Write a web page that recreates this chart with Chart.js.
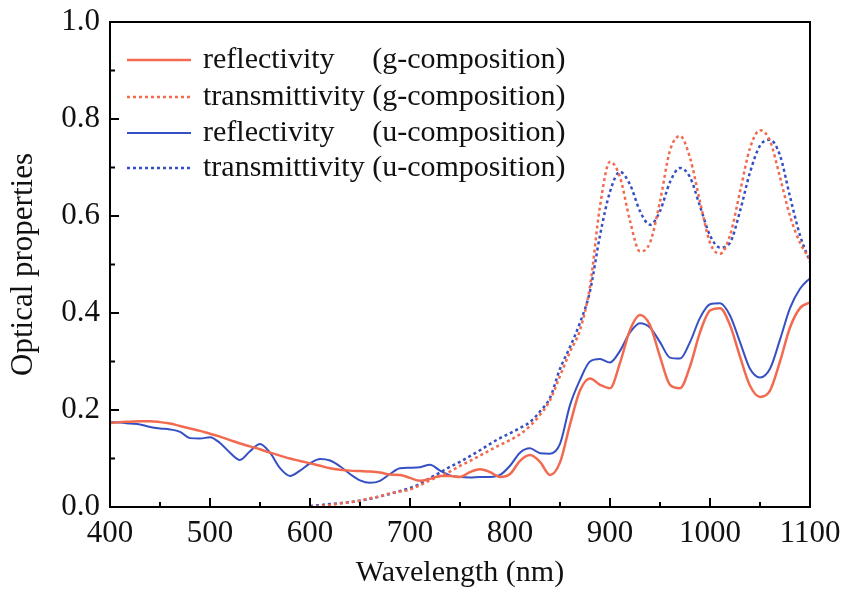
<!DOCTYPE html>
<html>
<head>
<meta charset="utf-8">
<script src="https://cdn.jsdelivr.net/npm/chart.js@4.4.1/dist/chart.umd.min.js"></script>
<style>
  html, body { margin: 0; padding: 0; background: #fff; }
  #wrap { width: 841px; height: 591px; }
</style>
</head>
<body>
<div id="wrap"><canvas id="opticChart" width="841" height="591"></canvas></div>
<script>
// wavelength grid (nm) for reflectivity curves
const wavelengthR = [400, 410, 420, 430, 440, 450, 460, 470, 480, 490, 500, 510, 520, 530, 540, 550, 560, 570, 580, 590,
    600, 610, 620, 630, 640, 650, 660, 670, 680, 690, 700, 710, 720, 730, 740, 750, 760, 770, 780, 790,
    800, 810, 820, 830, 840, 850, 860, 870, 880, 890, 900, 910, 920, 930, 940, 950, 960, 970, 980, 990,
    1000, 1010, 1020, 1030, 1040, 1050, 1060, 1070, 1080, 1090, 1100];

// wavelength grid (nm) for transmittivity curves
const wavelengthT = [600, 610, 620, 630, 640, 650, 660, 670, 680, 690, 700, 710, 720, 730, 740, 750, 760, 770, 780, 790,
    800, 810, 820, 830, 840, 850, 860, 870, 880, 890, 900, 910, 920, 930, 940, 950, 960, 970, 980, 990,
    1000, 1010, 1020, 1030, 1040, 1050, 1060, 1070, 1080, 1090, 1100];

const reflG = [0.173, 0.175, 0.176, 0.177, 0.177, 0.175, 0.172, 0.167, 0.162, 0.157, 0.151, 0.145, 0.138, 0.131, 0.125, 0.119, 0.112, 0.106, 0.100, 0.095,
    0.090, 0.085, 0.080, 0.077, 0.075, 0.074, 0.073, 0.071, 0.067, 0.066, 0.060, 0.054, 0.058, 0.064, 0.064, 0.062, 0.072, 0.078, 0.072, 0.062,
    0.068, 0.095, 0.107, 0.093, 0.066, 0.092, 0.170, 0.240, 0.265, 0.252, 0.245, 0.297, 0.365, 0.396, 0.375, 0.310, 0.252, 0.245, 0.290, 0.360,
    0.405, 0.410, 0.375, 0.310, 0.250, 0.227, 0.240, 0.300, 0.370, 0.410, 0.422];

const reflU = [0.175, 0.174, 0.172, 0.170, 0.165, 0.162, 0.160, 0.155, 0.142, 0.141, 0.144, 0.132, 0.112, 0.097, 0.115, 0.130, 0.112, 0.080, 0.064, 0.075,
    0.090, 0.099, 0.096, 0.084, 0.068, 0.055, 0.050, 0.054, 0.068, 0.080, 0.081, 0.082, 0.087, 0.075, 0.065, 0.062, 0.061, 0.062, 0.062, 0.066,
    0.085, 0.112, 0.121, 0.111, 0.110, 0.130, 0.210, 0.262, 0.300, 0.305, 0.298, 0.322, 0.360, 0.379, 0.370, 0.340, 0.308, 0.306, 0.340, 0.390,
    0.418, 0.420, 0.395, 0.340, 0.285, 0.267, 0.285, 0.345, 0.410, 0.450, 0.472];

const transG = [0.000, 0.002, 0.004, 0.007, 0.010, 0.013, 0.018, 0.022, 0.028, 0.032, 0.036, 0.045, 0.055, 0.064, 0.073, 0.085, 0.095, 0.106, 0.117, 0.128,
    0.138, 0.150, 0.167, 0.190, 0.220, 0.270, 0.320, 0.365, 0.455, 0.620, 0.712, 0.680, 0.590, 0.527, 0.545, 0.630, 0.735, 0.765, 0.720, 0.630,
    0.545, 0.522, 0.560, 0.650, 0.740, 0.777, 0.755, 0.680, 0.600, 0.545, 0.510];

const transU = [0.002, 0.004, 0.006, 0.008, 0.010, 0.013, 0.017, 0.022, 0.027, 0.033, 0.039, 0.048, 0.060, 0.071, 0.083, 0.093, 0.105, 0.117, 0.130, 0.142,
    0.152, 0.163, 0.175, 0.197, 0.225, 0.285, 0.330, 0.380, 0.445, 0.560, 0.650, 0.691, 0.665, 0.610, 0.582, 0.610, 0.670, 0.699, 0.680, 0.620,
    0.560, 0.535, 0.545, 0.610, 0.690, 0.745, 0.757, 0.725, 0.640, 0.560, 0.505];

const xTicks = [400, 500, 600, 700, 800, 900, 1000, 1100];
const xMinor = [450, 550, 650, 750, 850, 950, 1050];
const yTicks = [0, 0.2, 0.4, 0.6, 0.8, 1.0];
const yMinor = [0.1, 0.3, 0.5, 0.7, 0.9];

const legendNames = ['reflectivity', 'transmittivity', 'reflectivity', 'transmittivity'];
const legendComps = ['(g-composition)', '(g-composition)', '(u-composition)', '(u-composition)'];

const RED = '#F26A4F';
const BLUE = '#3550C2';
const FONT = "'Liberation Serif', 'Times New Roman', serif";

function toPoints(xs, ys) {
    return xs.map((x, i) => ({ x: x, y: ys[i] }));
}

// frame, inward ticks and the in-plot legend
const decorPlugin = {
    id: 'decor',
    afterDraw(chart) {
        const ctx = chart.ctx;
        const a = chart.chartArea;
        const xs = chart.scales.x;
        const ys = chart.scales.y;
        ctx.save();
        ctx.strokeStyle = '#000';
        ctx.lineWidth = 2;
        ctx.strokeRect(a.left, a.top, a.right - a.left, a.bottom - a.top);

        ctx.lineWidth = 2;
        ctx.beginPath();
        xTicks.forEach(v => { const p = xs.getPixelForValue(v); ctx.moveTo(p, a.bottom); ctx.lineTo(p, a.bottom - 9); });
        xMinor.forEach(v => { const p = xs.getPixelForValue(v); ctx.moveTo(p, a.bottom); ctx.lineTo(p, a.bottom - 5); });
        yTicks.forEach(v => { const p = ys.getPixelForValue(v); ctx.moveTo(a.left, p); ctx.lineTo(a.left + 9, p); });
        yMinor.forEach(v => { const p = ys.getPixelForValue(v); ctx.moveTo(a.left, p); ctx.lineTo(a.left + 5, p); });
        ctx.stroke();

        // legend
        ctx.font = '30px ' + FONT;
        ctx.textBaseline = 'middle';
        ctx.fillStyle = '#111';
        const textX = a.left + 93;
        const compX = textX + ctx.measureText('transmittivity ').width;
        const rowY = [60, 97, 133, 168];
        chart.data.datasets.forEach((ds, i) => {
            ctx.strokeStyle = ds.borderColor;
            ctx.lineWidth = ds.borderWidth;
            ctx.setLineDash(ds.borderDash || []);
            ctx.beginPath();
            ctx.moveTo(a.left + 17, rowY[i]);
            ctx.lineTo(a.left + 81, rowY[i]);
            ctx.stroke();
            ctx.setLineDash([]);
            ctx.fillText(legendNames[i], textX, rowY[i]);
            ctx.fillText(legendComps[i], compX, rowY[i]);
        });
        ctx.restore();
    }
};

const ctx = document.getElementById('opticChart').getContext('2d');
new Chart(ctx, {
    type: 'line',
    data: {
        datasets: [
            {
                label: 'reflectivity (g-composition)',
                data: toPoints(wavelengthR, reflG),
                borderColor: RED,
                borderWidth: 2.5
            },
            {
                label: 'transmittivity (g-composition)',
                data: toPoints(wavelengthT, transG),
                borderColor: RED,
                borderWidth: 2.5,
                borderDash: [3, 3]
            },
            {
                label: 'reflectivity (u-composition)',
                data: toPoints(wavelengthR, reflU),
                borderColor: BLUE,
                borderWidth: 2
            },
            {
                label: 'transmittivity (u-composition)',
                data: toPoints(wavelengthT, transU),
                borderColor: BLUE,
                borderWidth: 2.5,
                borderDash: [3, 3]
            }
        ]
    },
    options: {
        responsive: false,
        animation: false,
        devicePixelRatio: 1,
        elements: {
            point: { radius: 0 },
            line: { cubicInterpolationMode: 'monotone', fill: false }
        },
        layout: { padding: { top: 22, right: 31, left: 0, bottom: 0 } },
        plugins: {
            legend: { display: false },
            tooltip: { enabled: false }
        },
        scales: {
            x: {
                type: 'linear',
                min: 400,
                max: 1100,
                afterFit: s => { s.height = 84; s.paddingLeft = 0; s.paddingRight = 0; },
                afterBuildTicks: s => { s.ticks = xTicks.map(v => ({ value: v })); },
                grid: { display: false, drawTicks: false },
                border: { display: false },
                ticks: { autoSkip: false, maxRotation: 0, padding: 8, color: '#111', font: { family: FONT, size: 31 }, callback: v => String(v) },
                title: { display: true, text: 'Wavelength (nm)', color: '#111', padding: { top: 0, bottom: 0 }, font: { family: FONT, size: 30 } }
            },
            y: {
                min: 0,
                max: 1,
                afterFit: s => { s.width = 110; s.paddingTop = 0; s.paddingBottom = 0; },
                afterBuildTicks: s => { s.ticks = yTicks.map(v => ({ value: v })); },
                grid: { display: false, drawTicks: false },
                border: { display: false },
                ticks: { padding: 10, color: '#111', font: { family: FONT, size: 31 }, callback: v => v.toFixed(1) },
                title: { display: true, text: 'Optical properties', color: '#111', padding: { top: 5, bottom: 0 }, font: { family: FONT, size: 31 } }
            }
        }
    },
    plugins: [decorPlugin]
});
</script>
</body>
</html>
